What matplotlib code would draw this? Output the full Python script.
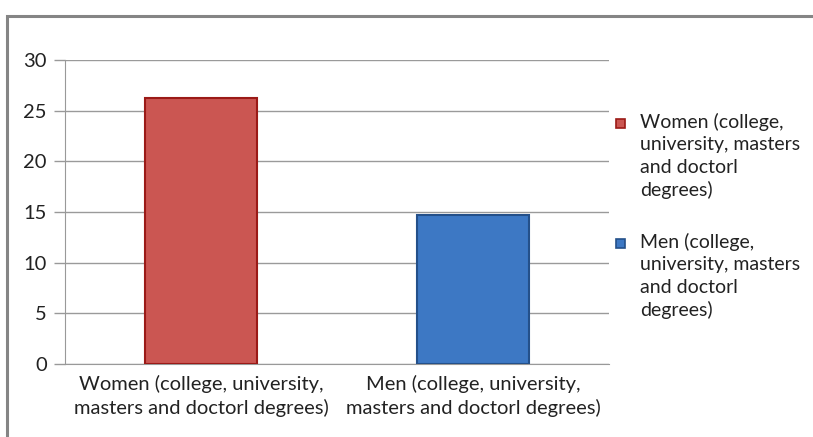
import matplotlib.pyplot as plt
from matplotlib.patches import Rectangle

categories = ['Women (college, university,\nmasters and doctorl degrees)',
              'Men (college, university,\nmasters and doctorl degrees)']
legend_labels = ['Women (college,\nuniversity, masters\nand doctorl\ndegrees)',
                 'Men (college,\nuniversity, masters\nand doctorl\ndegrees)']
values = [26.2, 14.7]
colors = ['#CB5652', '#3D78C4']
edges = ['#9B1A17', '#24508A']
yticks = [0, 5, 10, 15, 20, 25, 30]

plt.rcParams['font.family'] = ['Lato', 'DejaVu Sans']

W, H = 813, 437
fig = plt.figure(figsize=(W / 100, H / 100), dpi=100)
ax = fig.add_axes([0.080, 0.167, 0.669, 0.696])

bars = ax.bar(range(len(values)), values, width=0.41, color=colors,
              edgecolor=edges, linewidth=1.5, zorder=3)

ax.set_xlim(-0.5, 1.5)
ax.set_ylim(0, 30)
ax.set_yticks(yticks)
ax.set_xticks(range(len(categories)))
ax.set_xticklabels(categories, fontsize=14.5, color='#222222', linespacing=1.38)
ax.tick_params(axis='y', labelsize=14.5, colors='#222222', length=8, width=1,
               color='#999999', pad=5)
ax.tick_params(axis='x', length=0, pad=8)
ax.grid(axis='y', color='#9a9a9a', linewidth=1, zorder=0)
for s in ['top', 'right']:
    ax.spines[s].set_visible(False)
ax.spines['left'].set_color('#999999')
ax.spines['bottom'].set_color('#999999')

# legend drawn by hand so the marker sits on the first line
for i, (lab, c, e) in enumerate(zip(legend_labels, colors, edges)):
    top = 113 + i * 120
    fig.patches.append(Rectangle((616 / W, 1 - (top + 15) / H), 9 / W, 9 / H,
                                 transform=fig.transFigure, facecolor=c,
                                 edgecolor=e, linewidth=1.2))
    fig.text(640 / W, 1 - top / H, lab, fontsize=14, color='#222222',
             va='top', ha='left', linespacing=1.38)

# outer chart frame
fig.patches.append(Rectangle((7 / W, -0.05), 1.0, 1 - 16 / H + 0.05,
                             transform=fig.transFigure, fill=False,
                             edgecolor='#858585', linewidth=2.2))

fig.savefig('out.png', dpi=100)
